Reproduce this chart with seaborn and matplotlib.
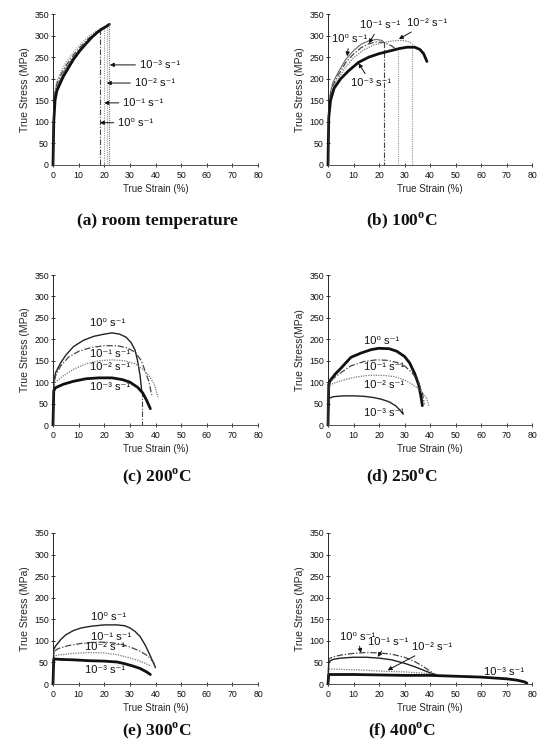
import matplotlib
matplotlib.use("Agg")
import matplotlib.pyplot as plt
import seaborn as sns
import pandas as pd

# ---------------- data (true strain %, true stress MPa) ----------------
rate_labels = ["10⁰ s⁻¹", "10⁻¹ s⁻¹", "10⁻² s⁻¹", "10⁻³ s⁻¹"]
x_ticks = [0, 10, 20, 30, 40, 50, 60, 70, 80]
y_ticks = [0, 50, 100, 150, 200, 250, 300, 350]

# (a) room temperature
a_strain_0 = [0, 0.3, 0.8, 1.5, 3, 5, 8, 11, 14, 17, 18.5]
a_stress_0 = [0, 120, 175, 195, 215, 238, 262, 282, 299, 311, 316]
a_strain_1 = [0, 0.3, 0.8, 1.5, 3, 5, 8, 11, 14, 17, 20]
a_stress_1 = [0, 115, 168, 188, 208, 230, 255, 276, 294, 308, 318]
a_strain_2 = [0, 0.3, 0.8, 1.5, 3, 5, 8, 11, 14, 17, 20, 21]
a_stress_2 = [0, 110, 160, 180, 200, 224, 250, 272, 290, 305, 317, 321]
a_strain_3 = [0, 0.3, 0.8, 1.5, 2.7, 4, 5.5, 8, 10.5, 13, 15, 17, 19, 21, 22]
a_stress_3 = [0, 100, 150, 172, 188, 205, 220, 245, 265, 282, 295, 306, 315, 322, 326]

# (b) 100 C
b_strain_0 = [0, 0.3, 1, 2, 4, 7, 10, 13, 16, 19, 21, 21.8]
b_stress_0 = [0, 130, 170, 192, 215, 245, 265, 280, 288, 291, 289, 285]
b_strain_1 = [0, 0.3, 1, 2, 4, 7, 10, 13, 16, 19, 22, 25, 27.5]
b_stress_1 = [0, 125, 165, 185, 208, 238, 257, 272, 281, 285, 284, 276, 265]
b_strain_2 = [0, 0.3, 1, 2, 4, 7, 10, 14, 18, 22, 26, 29, 31, 33]
b_stress_2 = [0, 120, 160, 178, 200, 228, 248, 267, 278, 284, 288, 289, 287, 282]
b_strain_3 = [0, 0.3, 1, 2.4, 5, 8, 12, 16, 20, 24, 28, 31, 34, 36, 37.5, 38.8]
b_stress_3 = [0, 110, 150, 178, 200, 218, 238, 250, 258, 264, 270, 273, 273, 268, 258, 240]

# (c) 200 C
c_strain_0 = [0, 0.3, 1, 3, 5, 8, 12, 16, 20, 23, 26, 28.5, 30.5, 32, 33, 34, 34.6]
c_stress_0 = [0, 100, 122, 145, 163, 183, 198, 207, 212, 215, 212, 205, 192, 175, 150, 115, 80]
c_strain_1 = [0, 0.3, 1, 3, 6, 10, 15, 20, 25, 29, 32, 34.5, 36, 37.5, 38.5]
c_stress_1 = [0, 95, 115, 138, 158, 172, 181, 185, 185, 180, 170, 150, 125, 100, 70]
c_strain_2 = [0, 0.3, 1, 4, 8, 13, 18, 23, 28, 32, 35, 37.5, 39.5, 40.5, 41]
c_stress_2 = [0, 90, 100, 115, 130, 143, 150, 152, 150, 143, 130, 115, 95, 75, 65]
c_strain_3 = [0, 0.3, 1, 4, 8, 13, 18, 23, 27, 30, 33, 35, 36.5, 38]
c_stress_3 = [0, 80, 87, 95, 102, 108, 110, 110, 106, 100, 88, 75, 58, 38]

# (d) 250 C
d_strain_0 = [0, 0.3, 1, 3, 5, 7, 9, 13, 17, 20, 24, 27, 30, 32, 34, 35.5, 36.5, 37]
d_stress_0 = [0, 95, 105, 120, 132, 145, 158, 168, 176, 179, 178, 172, 160, 145, 120, 95, 65, 45]
d_strain_1 = [0, 0.3, 2, 5, 9, 14, 19, 23, 27, 30, 33, 35.5, 37, 37.8]
d_stress_1 = [0, 95, 108, 122, 138, 148, 152, 151, 146, 138, 122, 100, 75, 48]
d_strain_2 = [0, 0.3, 2, 6, 11, 16, 21, 26, 30, 33, 36, 38.5, 39.6]
d_stress_2 = [0, 90, 97, 105, 112, 116, 116, 113, 105, 95, 82, 65, 45]
d_strain_3 = [0, 0.3, 2, 6, 10, 14, 18, 21, 24, 26.5, 28.5, 29.5]
d_stress_3 = [0, 62, 66, 68, 68, 67, 64, 60, 54, 45, 33, 25]

# (e) 300 C
e_strain_0 = [0, 0.3, 1, 3, 5, 8, 11, 15, 20, 25, 28, 30, 32, 34, 36, 38, 40]
e_stress_0 = [0, 80, 88, 103, 114, 124, 130, 134, 137, 137, 135, 130, 122, 110, 90, 65, 38]
e_strain_1 = [0, 0.3, 2, 6, 11, 16, 21, 26, 30, 34, 37, 39, 40]
e_stress_1 = [0, 75, 82, 89, 94, 97, 97, 93, 86, 76, 65, 52, 42]
e_strain_2 = [0, 0.3, 3, 8, 14, 20, 25, 29, 33, 36, 38]
e_stress_2 = [0, 65, 68, 71, 73, 72, 68, 62, 55, 48, 42]
e_strain_3 = [0, 0.3, 3, 8, 14, 20, 25, 28, 31, 34, 36.5, 38]
e_stress_3 = [0, 58, 57, 56, 54, 53, 51, 47, 42, 36, 28, 22]

# (f) 400 C
f_strain_0 = [0, 0.3, 2, 5, 10, 15, 20, 25, 30, 34, 37, 40, 42]
f_stress_0 = [0, 58, 63, 67, 71, 73, 72, 69, 62, 52, 42, 30, 22]
f_strain_1 = [0, 0.3, 2, 5, 10, 15, 20, 25, 30, 34, 37, 40, 42]
f_stress_1 = [0, 52, 57, 60, 62, 62, 60, 56, 48, 40, 33, 26, 22]
f_strain_2 = [0, 0.3, 5, 10, 15, 20, 25, 30, 35, 40, 43]
f_stress_2 = [0, 35, 34, 33, 32, 30, 29, 28, 26, 24, 22]
f_strain_3 = [0, 0.3, 5, 10, 20, 30, 40, 50, 55, 60, 65, 70, 74, 77, 78]
f_stress_3 = [0, 22, 22, 22, 21, 20, 20, 18, 17, 16, 14, 12, 9, 5, 2]

# ---------------- styles ----------------
THICK = dict(color="#111111", lw=2.0, ls="-")
SOLID = dict(color="#222222", lw=1.0, ls="-")
THINGRAY = dict(color="#666666", lw=0.8, ls="-")
DASHDOT = dict(color="#444444", lw=0.9, ls=(0, (5, 1.5, 1, 1.5)))
DOTTED = dict(color="#777777", lw=0.9, ls=(0, (1, 1)))
LIGHTDOT = dict(color="#999999", lw=0.9, ls=(0, (1, 1)))

sns.set_style("ticks")
plt.rcParams["font.family"] = ["Liberation Sans", "DejaVu Sans"]
plt.rcParams["mathtext.fontset"] = "custom"
plt.rcParams["mathtext.rm"] = "Liberation Serif:bold"
plt.rcParams["mathtext.bf"] = "Liberation Serif:bold"

fig = plt.figure(figsize=(5.48, 7.56), dpi=100)

W, H = 548.0, 756.0
col_left = [53, 328]
col_w = [205, 204]
row_top = [14, 275, 533]
row_h = [151, 150, 151]


def make_ax(r, c, ylabel="True Stress (MPa)"):
    ax = fig.add_axes([col_left[c] / W, 1 - (row_top[r] + row_h[r]) / H,
                       col_w[c] / W, row_h[r] / H])
    ax.set_xlim(0, 80)
    ax.set_ylim(0, 350)
    ax.set_xticks(x_ticks)
    ax.set_yticks(y_ticks)
    ax.tick_params(axis="both", direction="inout", length=3, width=0.6,
                   labelsize=6.3, colors="#111111")
    ax.tick_params(axis="y", pad=1.5)
    ax.tick_params(axis="x", pad=3)
    for s in ["top", "right"]:
        ax.spines[s].set_visible(False)
    ax.spines["left"].set_linewidth(0.7)
    ax.spines["bottom"].set_linewidth(0.7)
    ax.spines["bottom"].set_color("#555555")
    ax.set_xlabel("True Strain (%)", fontsize=7, labelpad=3)
    ax.set_ylabel(ylabel, fontsize=7.5, labelpad=3)
    return ax


def curve(ax, strain, stress, st, drop=None):
    df = pd.DataFrame({"strain": strain, "stress": stress})
    sns.lineplot(data=df, x="strain", y="stress", ax=ax, sort=False,
                 estimator=None, color=st["color"], lw=st["lw"],
                 linestyle=st["ls"], clip_on=False)
    if drop is not None:
        dd = pd.DataFrame({"strain": [strain[-1], strain[-1]],
                           "stress": [stress[-1], 0]})
        sns.lineplot(data=dd, x="strain", y="stress", ax=ax, sort=False,
                     estimator=None, color=drop["color"], lw=0.8,
                     linestyle=drop["ls"])
    ax.set_xlabel(ax.get_xlabel())


def label(ax, text, xy_text, xy_arrow=None):
    if xy_arrow is None:
        ax.text(xy_text[0], xy_text[1], text, fontsize=8, ha="left",
                va="center", color="#111111")
    else:
        ax.annotate(text, xy=xy_arrow, xytext=xy_text, fontsize=8,
                    ha="left", va="center", color="#111111",
                    arrowprops=dict(arrowstyle="-|>", lw=0.7, color="#111111",
                                    mutation_scale=6, shrinkA=1, shrinkB=0))


def finish(ax):
    ax.set_xlabel("True Strain (%)", fontsize=7, labelpad=3)


# (a)
ax = make_ax(0, 0)
curve(ax, a_strain_0, a_stress_0, LIGHTDOT, drop=DASHDOT)
curve(ax, a_strain_1, a_stress_1, DASHDOT, drop=LIGHTDOT)
curve(ax, a_strain_2, a_stress_2, THINGRAY, drop=LIGHTDOT)
curve(ax, a_strain_3, a_stress_3, THICK, drop=DOTTED)
label(ax, rate_labels[3], (34, 232), (22.2, 232))
label(ax, rate_labels[2], (32, 190), (21, 190))
label(ax, rate_labels[1], (27.5, 144), (20, 144))
label(ax, rate_labels[0], (25.5, 98), (18.3, 98))
finish(ax)

# (b)
ax = make_ax(0, 1)
curve(ax, b_strain_0, b_stress_0, THINGRAY, drop=DASHDOT)
curve(ax, b_strain_1, b_stress_1, DASHDOT, drop=LIGHTDOT)
curve(ax, b_strain_2, b_stress_2, DOTTED, drop=LIGHTDOT)
curve(ax, b_strain_3, b_stress_3, THICK)
label(ax, rate_labels[0], (1.5, 292), (7.5, 252))
label(ax, rate_labels[1], (12.5, 325), (16, 282))
label(ax, rate_labels[2], (31, 329), (27.8, 292))
label(ax, rate_labels[3], (9, 190), (12, 236))
finish(ax)

# (c)
ax = make_ax(1, 0)
curve(ax, c_strain_0, c_stress_0, SOLID, drop=DASHDOT)
curve(ax, c_strain_1, c_stress_1, DASHDOT)
curve(ax, c_strain_2, c_stress_2, DOTTED)
curve(ax, c_strain_3, c_stress_3, THICK)
label(ax, rate_labels[0], (14.5, 238))
label(ax, rate_labels[1], (14.5, 166))
label(ax, rate_labels[2], (14.5, 135))
label(ax, rate_labels[3], (14.5, 89))
finish(ax)

# (d)
ax = make_ax(1, 1, ylabel="True Stress(MPa)")
curve(ax, d_strain_0, d_stress_0, THICK)
curve(ax, d_strain_1, d_stress_1, DASHDOT)
curve(ax, d_strain_2, d_stress_2, DOTTED)
curve(ax, d_strain_3, d_stress_3, SOLID)
label(ax, rate_labels[0], (14, 196))
label(ax, rate_labels[1], (14, 136))
label(ax, rate_labels[2], (14, 94))
label(ax, rate_labels[3], (14, 28))
finish(ax)

# (e)
ax = make_ax(2, 0)
curve(ax, e_strain_0, e_stress_0, SOLID)
curve(ax, e_strain_1, e_stress_1, DASHDOT)
curve(ax, e_strain_2, e_stress_2, DOTTED)
curve(ax, e_strain_3, e_stress_3, THICK)
label(ax, rate_labels[0], (15, 156))
label(ax, rate_labels[1], (15, 110))
label(ax, rate_labels[2], (12.5, 86))
label(ax, rate_labels[3], (12.5, 33))
finish(ax)

# (f)
ax = make_ax(2, 1)
curve(ax, f_strain_0, f_stress_0, DASHDOT)
curve(ax, f_strain_1, f_stress_1, SOLID)
curve(ax, f_strain_2, f_stress_2, DOTTED)
curve(ax, f_strain_3, f_stress_3, THICK)
label(ax, rate_labels[0], (4.7, 110), (12.9, 72))
label(ax, rate_labels[1], (15.6, 98), (19.5, 63))
label(ax, rate_labels[2], (32.8, 86), (23.4, 32))
label(ax, rate_labels[3], (61, 28))
finish(ax)

# captions
captions = ["(a) room temperature", r"(b) 100$^{\mathbf{o}}$C",
            r"(c) 200$^{\mathbf{o}}$C", r"(d) 250$^{\mathbf{o}}$C",
            r"(e) 300$^{\mathbf{o}}$C", r"(f) 400$^{\mathbf{o}}$C"]
cap_x = [157, 402]
cap_y = [221, 477, 731]
for i, cap in enumerate(captions):
    r, c = divmod(i, 2)
    fig.text(cap_x[c] / W, 1 - cap_y[r] / H, cap, ha="center", va="center",
             fontsize=12.5, fontweight="bold", family="Liberation Serif",
             color="#111111")

fig.savefig("out.png", dpi=100)
